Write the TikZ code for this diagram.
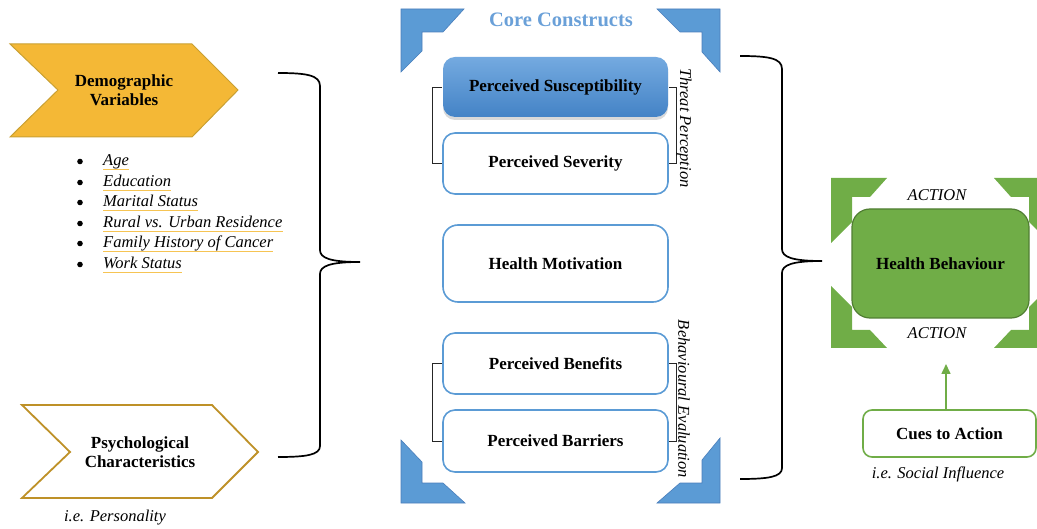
\documentclass[tikz,border=0pt]{standalone}
\usepackage{fontspec}
\setmainfont{Liberation Serif}
\usetikzlibrary{calc,shadows,arrows.meta}

\definecolor{goldfill}{HTML}{F4B836}
\definecolor{goldline}{HTML}{C9A032}
\definecolor{golddark}{HTML}{BE9128}
\definecolor{goldul}{HTML}{F6C453}
\definecolor{bluefill}{HTML}{5B9BD5}
\definecolor{blueline}{HTML}{4A7EBB}
\definecolor{bluetop}{HTML}{74AAE0}
\definecolor{bluebot}{HTML}{4483C6}
\definecolor{bluetitle}{HTML}{6AA0D8}
\definecolor{greenfill}{HTML}{70AD47}
\definecolor{greenline}{HTML}{507E32}

\tikzset{
  lbl/.style={font=\fontsize{17}{19.5}\selectfont\bfseries, align=center, text=black},
  itl/.style={font=\fontsize{16.5}{19}\selectfont\itshape, text=black},
  corebox/.style={draw=bluefill, line width=1.6pt, fill=white, rounded corners=12pt,
    minimum width=225pt, lbl},
  bluecorner/.style={fill=bluefill, draw=blueline, line width=0.6pt},
  greencorner/.style={fill=greenfill},
  brace/.style={line width=1.7pt, black},
  bracket/.style={line width=0.9pt, black!85},
  listitem/.style={itl, anchor=base west, inner sep=0pt},
  underl/.style={goldul, line width=1.3pt},
}

\begin{document}
\begin{tikzpicture}[x=1pt, y=-1pt]
\useasboundingbox (0,0) rectangle (1037,529);
\clip (0,0) rectangle (1037,529);

% ---- left column: demographic chevron and list
\draw[fill=goldfill, draw=goldline, line width=1pt]
  (10,44) -- (192,44) -- (238,90) -- (192,137) -- (10,137) -- (58,90) -- cycle;
\node[lbl] (demo) at (124,90) {Demographic\\Variables};

\foreach \i/\yb/\txt in {1/166/Age, 2/187/Education, 3/207/Marital Status,
    4/228/Rural vs. Urban Residence, 5/248/Family History of Cancer, 6/269/Work Status} {
  \fill (80,\yb-4.5) circle (2.8pt);
  \node[listitem] (item\i) at (103,\yb) {\txt};
  \draw[underl] ($(item\i.base west)+(0,3.2)$) -- ($(item\i.base east)+(0,3.2)$);
}

% ---- psychological chevron
\draw[fill=white, draw=golddark, line width=1.8pt]
  (22,405) -- (212,405) -- (258,452) -- (212,498) -- (22,498) -- (70,452) -- cycle;
\node[lbl] (psych) at (140,452) {Psychological\\Characteristics};
\node[itl] (pers) at (115,518) {i.e. Personality};

% ---- left brace
\coordinate (lbtip) at (360,262);
\draw[brace] (278,73) .. controls (306,73) and (320,75) .. (320,86) -- (320,250)
  .. controls (320,258) and (330,262) .. (lbtip)
  .. controls (330,262) and (320,266) .. (320,274) -- (320,446)
  .. controls (320,455) and (306,457) .. (278,457);

% ---- blue frame corners
\draw[bluecorner] (401,9) -- (464,9) -- (443,32) -- (422,32) -- (422,51) -- (401,72) -- cycle;
\draw[bluecorner] (720,9) -- (657,9) -- (680,32) -- (702,32) -- (702,52) -- (720,72) -- cycle;
\draw[bluecorner] (401,440) -- (422,462) -- (422,483) -- (443,483) -- (465,503) -- (401,503) -- cycle;
\draw[bluecorner] (720,438) -- (702,460) -- (702,483) -- (680,483) -- (657,503) -- (720,503) -- cycle;
\node[font=\fontsize{20.5}{24}\selectfont\bfseries, text=bluetitle] (core) at (561,20) {Core Constructs};

% ---- core construct boxes
\node[corebox, draw=none, top color=bluetop, bottom color=bluebot, minimum height=60pt,
  drop shadow={opacity=0.3, shadow xshift=0pt, shadow yshift=-3pt}]
  (sus) at (555.5,87) {Perceived Susceptibility};
\node[corebox, minimum height=61pt] (sev) at (555.5,163.5) {Perceived Severity};
\node[corebox, minimum height=77pt, rounded corners=15pt] (mot) at (555.5,263.5) {Health Motivation};
\node[corebox, minimum height=61pt] (ben) at (555.5,363.5) {Perceived Benefits};
\node[corebox, minimum height=62pt] (bar) at (555.5,441) {Perceived Barriers};

% ---- grouping brackets
\draw[bracket] (sus.west) -- ++(-10,0) |- (sev.west);
\draw[bracket] (sus.east) -- ++(8,0) |- (sev.east);
\draw[bracket] (ben.west) -- ++(-10,0) |- (bar.west);
\draw[bracket] (ben.east) -- ++(8,0) |- (bar.east);
\node[itl, rotate=-90] (threat) at (684,128) {Threat Perception};
\node[itl, rotate=-90] (behav) at (684,399) {Behavioural Evaluation};

% ---- right brace
\coordinate (rbtip) at (822,261);
\draw[brace] (740,56) .. controls (768,56) and (782,58) .. (782,69) -- (782,249)
  .. controls (782,257) and (792,261) .. (rbtip)
  .. controls (792,261) and (782,265) .. (782,273) -- (782,468)
  .. controls (782,477) and (768,479) .. (740,479);

% ---- green action frame
\fill[greencorner] (831,178) -- (887,178) -- (870,197) -- (852,197) -- (852,222) -- (831,243) -- cycle;
\fill[greencorner] (1050,178) -- (994,178) -- (1011,197) -- (1029,197) -- (1029,222) -- (1050,243) -- cycle;
\fill[greencorner] (831,348) -- (887,348) -- (870,330) -- (852,330) -- (852,307) -- (831,286) -- cycle;
\fill[greencorner] (1050,348) -- (994,348) -- (1011,330) -- (1029,330) -- (1029,307) -- (1050,286) -- cycle;
\node[lbl, fill=greenfill, draw=greenline, line width=1.2pt, rounded corners=18pt,
  minimum width=177pt, minimum height=109pt] (hb) at (940.5,263.5) {Health Behaviour};
\node[itl] (act1) at (937,195) {ACTION};
\node[itl] (act2) at (937,333) {ACTION};

% ---- cues to action
\node[lbl, draw=greenfill, line width=1.6pt, rounded corners=9pt, fill=white,
  minimum width=173pt, minimum height=47pt] (cues) at (949.5,433.5) {Cues to Action};
\coordinate (cuetip) at (946,364);
\draw[greenfill, line width=1.6pt, -{Triangle[length=10pt,width=9pt]}] (cues.north -| cuetip) -- (cuetip);
\node[itl] (social) at (938,474) {i.e. Social Influence};
\end{tikzpicture}
\end{document}
